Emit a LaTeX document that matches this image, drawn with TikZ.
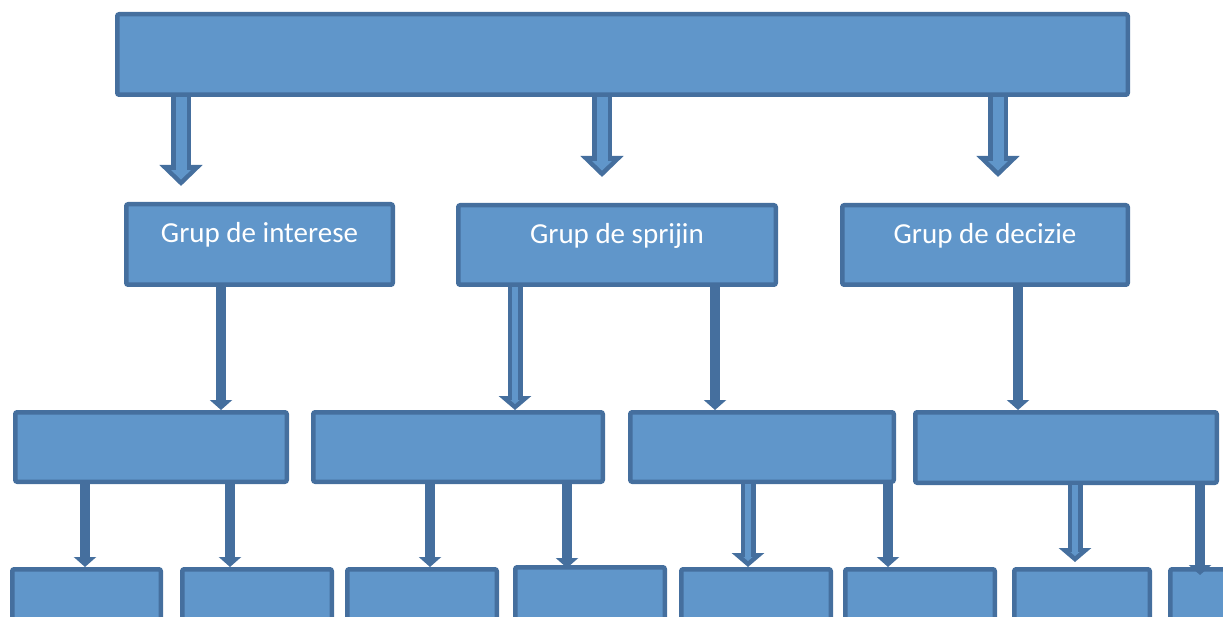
\documentclass[tikz,border=0pt]{standalone}
\usepackage{fontspec}
\setmainfont{Carlito}
\usetikzlibrary{arrows.meta}
\definecolor{boxfill}{RGB}{96,150,202}
\definecolor{boxedge}{RGB}{69,111,158}
\tikzset{
  orgbox/.style={draw=boxedge,fill=boxfill,line width=4.5pt,rounded corners=2pt,
    inner sep=0pt,text=white,font=\fontsize{29}{34}\selectfont,
    text height=20pt,text depth=23pt},
  boxsize/.style 2 args={minimum width={#1-4.5},minimum height={#2-4.5}},
  solidarrow/.style={draw=boxedge,line width=10pt,-{Triangle[width=22pt,length=10pt]}},
  bigouter/.style={draw=boxedge,line width=20pt,-{Triangle[width=42pt,length=21pt]}},
  biginner/.style={draw=boxfill,line width=11pt,-{Triangle[width=19pt,length=9.5pt]},shorten >=6.4pt},
  thinouter/.style={draw=boxedge,line width=15pt,-{Triangle[width=32pt,length=14pt]}},
  thininner/.style={draw=boxfill,line width=6pt,-{Triangle[width=9pt,length=4pt]},shorten >=6pt},
}
\begin{document}
\begin{tikzpicture}[x=1pt,y=-1pt]
  \useasboundingbox (0,0) rectangle (1223,617);
  % Top level
  \node[orgbox,boxsize={1015}{85}] (top) at (622.5,54.5) {};
  % Second level
  \node[orgbox,boxsize={271}{85}] (int) at (259.5,244.5) {Grup de interese};
  \node[orgbox,boxsize={322}{84}] (spr) at (617,245) {Grup de sprijin};
  \node[orgbox,boxsize={290}{84}] (dec) at (985,245) {Grup de decizie};
  % Third level
  \node[orgbox,boxsize={276}{74}] (a) at (151,447) {};
  \node[orgbox,boxsize={294}{74}] (b) at (458,447) {};
  \node[orgbox,boxsize={268}{74}] (c) at (762,447) {};
  \node[orgbox,boxsize={306}{75}] (d) at (1066,447.5) {};
  % Fourth level (cut by the page edge)
  \foreach \n/\xl/\xr/\yt in {1/10/163/567,2/180/334/567,3/345/499/567,4/513/667/565,
      5/679/833/567,6/843/997/567,7/1012/1152/567,8/1168/1330/567}
    \node[orgbox,boxsize={\xr-\xl}{100}] (l\n) at ({(\xl+\xr)/2},{\yt+50}) {};
  % Block arrows below the top box
  \coordinate (tipint) at (181,186);
  \coordinate (tipspr) at (602,177);
  \coordinate (tipdec) at (998,177);
  \foreach \t in {tipint,tipspr,tipdec} {
    \draw[bigouter] (top.south -| \t) -- (\t);
    \draw[biginner] (top.south -| \t) -- (\t);
  }
  % Second to third level
  \draw[solidarrow] (int.south -| 221,0) -- (a.north -| 221,0);
  \draw[thinouter] (spr.south -| 515,0) -- (b.north -| 515,0);
  \draw[thininner] (spr.south -| 515,0) -- (b.north -| 515,0);
  \draw[solidarrow] (spr.south -| 715,0) -- (c.north -| 715,0);
  \draw[solidarrow] (dec.south -| 1018,0) -- (d.north -| 1018,0);
  % Third to fourth level
  \draw[solidarrow] (a.south -| 85,0) -- (l1.north -| 85,0);
  \draw[solidarrow] (a.south -| 230,0) -- (l2.north -| 230,0);
  \draw[solidarrow] (b.south -| 430,0) -- (l3.north -| 430,0);
  \draw[solidarrow] (b.south -| 567,0) -- ([yshift=-3pt]l4.north -| 567,0);
  \draw[thinouter] (c.south -| 748,0) -- (l5.north -| 748,0);
  \draw[thininner] (c.south -| 748,0) -- (l5.north -| 748,0);
  \draw[solidarrow] (c.south -| 888,0) -- (l6.north -| 888,0);
  \draw[thinouter] (d.south -| 1075,0) -- ([yshift=5pt]l7.north -| 1075,0);
  \draw[thininner] (d.south -| 1075,0) -- ([yshift=5pt]l7.north -| 1075,0);
  \draw[solidarrow] (d.south -| 1200,0) -- ([yshift=-8pt]l8.north -| 1200,0);
\end{tikzpicture}
\end{document}
